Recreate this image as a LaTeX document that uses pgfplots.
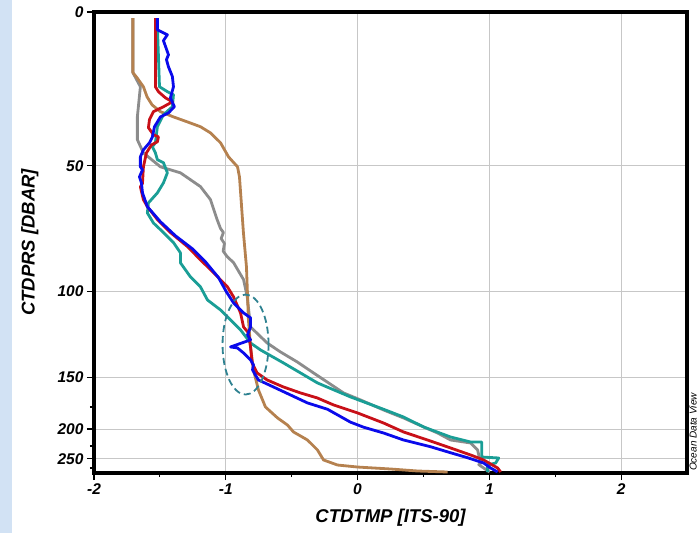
\documentclass[border=0pt]{standalone}
\usepackage{pgfplots}
\pgfplotsset{compat=1.18}
\usepackage{fontspec}
\setmainfont{Liberation Sans}
\definecolor{cbrown}{RGB}{181,129,79}
\definecolor{cgray}{RGB}{140,140,140}
\definecolor{cred}{RGB}{200,16,24}
\definecolor{cteal}{RGB}{26,158,150}
\definecolor{cblue}{RGB}{10,10,235}
\definecolor{cell}{RGB}{47,130,145}
\definecolor{cbg}{RGB}{210,226,244}
\begin{document}
\begin{tikzpicture}
\path[use as bounding box] (-94pt,-60pt) rectangle (605pt,473pt);
\fill[cbg] (-94pt,-60pt) rectangle (-82pt,473pt);
\begin{axis}[
  at={(0pt,0pt)}, anchor=south west,
  scale only axis, width=593pt, height=461pt,
  xmin=-2, xmax=2.5, ymin=0, ymax=290,
  y dir=reverse,
  y coord trafo/.code={\pgfmathparse{(#1<50)?(#1*3.074):((#1<100)?(153.7+(#1-50)*2.506):((#1<150)?(279+(#1-100)*1.72):((#1<175)?(365+(#1-150)*1.188):((#1<200)?(394.7+(#1-175)*0.88):((#1<225)?(416.7+(#1-200)*0.68):((#1<250)?(433.7+(#1-225)*0.508):((#1<275)?(446.4+(#1-250)*0.372):(455.7+(#1-275)*0.3333))))))))}},
  xtick={-2,-1,0,1,2}, xticklabels={-2,-1,0,1,2},
  minor xtick={-1.5,-0.5,0.5,1.5},
  ytick={0,50,100,150,200,250}, yticklabels={0,50,100,150,200,250},
  minor ytick={175,225,275},
  tick pos=left, tick align=outside,
  major tick length=7pt, minor tick length=4pt,
  every tick/.style={black, line width=1.2pt},
  grid=major, major grid style={black!22, line width=0.8pt},
  axis line style={line width=3.2pt},
  ticklabel style={font=\fontsize{15.5}{17}\selectfont\bfseries\itshape},
  label style={font=\fontsize{18.5}{20}\selectfont\bfseries\itshape},
  xlabel={CTDTMP [ITS-90]}, ylabel={CTDPRS [DBAR]},
  xlabel style={at={(axis description cs:0.5,-0.0976)}, anchor=center},
  ylabel style={at={(axis description cs:-0.108,0.5)}, anchor=center},
  every axis plot/.append style={line width=2.8pt, line join=round},
]
% gray
\addplot[cgray] coordinates {(-1.705,2)(-1.705,19.7)(-1.648,24.3)(-1.671,34.1)(-1.671,41.5)(-1.625,45.8)(-1.496,50.4)(-1.344,52.8)(-1.192,58.3)(-1.116,63.5)(-1.066,71.4)(-1.04,75)(-1.018,76.6)(-1.035,79)(-1.01,81)(-1.02,84)(-0.99,86.2)(-0.941,88.6)(-0.865,95.4)(-0.837,103.3)(-0.812,120.8)(-0.686,130.1)(-0.585,135.3)(-0.458,141.1)(-0.334,147.5)(-0.106,163.2)(0.023,169.1)(0.197,178.4)(0.349,187.5)(0.501,197.7)(0.607,205.9)(0.706,216.2)(0.858,220.6)(0.911,233)(0.934,261.6)(0.92,266)(0.957,275)(1.002,287)};
% brown
\addplot[cbrown] coordinates {(-1.705,2)(-1.705,19.7)(-1.673,21.4)(-1.625,24.3)(-1.597,27.6)(-1.559,30.2)(-1.496,32.4)(-1.397,34.1)(-1.293,35.7)(-1.192,37.3)(-1.116,39.3)(-1.04,42.5)(-0.979,47.1)(-0.911,50.4)(-0.896,54.4)(-0.866,76.7)(-0.843,90.3)(-0.828,116.7)(-0.812,132.4)(-0.79,145.8)(-0.752,160.7)(-0.699,175)(-0.607,187.5)(-0.532,195.5)(-0.486,204.4)(-0.38,216.2)(-0.304,232.9)(-0.258,253.5)(-0.152,267)(0,272.4)(0.251,278)(0.456,284)(0.683,287)};
% teal
\addplot[cteal] coordinates {(-1.521,2)(-1.503,24.3)(-1.443,25.9)(-1.397,26.9)(-1.405,30.8)(-1.473,33.4)(-1.519,37.3)(-1.534,42.5)(-1.557,43.8)(-1.534,45.8)(-1.519,48)(-1.473,49)(-1.443,52.8)(-1.473,56.8)(-1.519,60.8)(-1.587,64.8)(-1.595,68.8)(-1.549,72.8)(-1.473,76.6)(-1.397,80.6)(-1.344,84.7)(-1.344,88.7)(-1.268,94.3)(-1.192,98.3)(-1.139,105.1)(-1.04,110.9)(-0.941,118.4)(-0.888,122.5)(-0.812,130.1)(-0.737,134.1)(-0.562,141.7)(-0.433,147.5)(-0.304,154.8)(-0.053,166.6)(0.197,177.6)(0.349,186.4)(0.501,197.7)(0.706,211.8)(0.858,219.1)(0.942,219.1)(0.942,246.7)(1.071,248.6)(1.048,261.6)(0.987,267)(0.987,287)};
% red
\addplot[cred] coordinates {(-1.534,2)(-1.534,24.3)(-1.511,25.9)(-1.458,27.9)(-1.405,29.2)(-1.473,30.8)(-1.549,32.4)(-1.579,35)(-1.587,37.6)(-1.549,39.9)(-1.511,40.6)(-1.519,42.2)(-1.564,43.2)(-1.602,45.8)(-1.625,50.4)(-1.632,57)(-1.648,58.4)(-1.625,63.5)(-1.595,66.3)(-1.519,71.4)(-1.42,76.6)(-1.291,82.2)(-1.192,87.5)(-1.093,92.6)(-0.987,98.3)(-0.941,103.3)(-0.888,112.6)(-0.865,120.8)(-0.828,124.2)(-0.812,132.4)(-0.8,141.7)(-0.762,147.5)(-0.686,152.3)(-0.562,158.2)(-0.433,163.2)(-0.306,167.4)(-0.182,173.3)(0,181.8)(0.197,193.2)(0.349,204.4)(0.531,216.2)(0.706,228.9)(0.858,242.7)(0.957,253.5)(1.063,275)(1.086,287)};
% blue
\addplot[cblue] coordinates {(-1.519,2)(-1.519,5.8)(-1.443,7.4)(-1.473,9.3)(-1.435,13.9)(-1.45,15.5)(-1.435,17.8)(-1.405,21)(-1.397,24.3)(-1.42,27.9)(-1.39,30.8)(-1.435,32.8)(-1.496,34.1)(-1.541,37.3)(-1.557,40.6)(-1.579,42.5)(-1.625,44.8)(-1.648,47.1)(-1.648,50.4)(-1.632,51.6)(-1.655,54.4)(-1.64,56.8)(-1.632,60.8)(-1.595,66.3)(-1.496,72.3)(-1.382,77.9)(-1.253,83.1)(-1.154,88.3)(-1.055,94.6)(-0.995,100.4)(-0.941,106.8)(-0.865,112.6)(-0.812,115.5)(-0.812,120.8)(-0.835,125.4)(-0.812,128.3)(-0.964,132.4)(-0.911,133)(-0.865,135.9)(-0.812,139.9)(-0.79,142.8)(-0.797,145.7)(-0.775,148.7)(-0.752,152.3)(-0.638,158.2)(-0.509,164.9)(-0.38,171.6)(-0.228,177.6)(-0.053,192.3)(0.046,198)(0.197,205.9)(0.349,216.2)(0.554,226.5)(0.706,238.3)(0.835,248.1)(0.957,261.6)(1.01,275)(1.063,287)};
\draw[cell, line width=1.8pt, dash pattern=on 7pt off 4pt] (axis cs:-0.85,131) ellipse [x radius=23pt, y radius=50pt];
\end{axis}
\node[rotate=90, font=\fontsize{10}{11}\selectfont\itshape] at (599pt,41pt) {Ocean Data View};
\end{tikzpicture}
\end{document}
